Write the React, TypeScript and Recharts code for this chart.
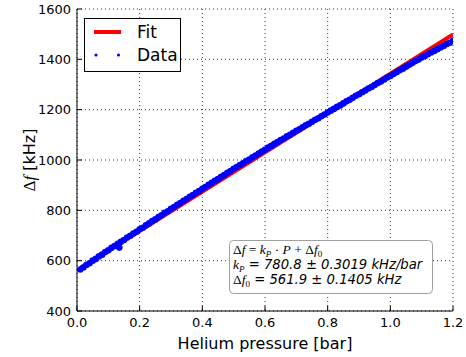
import React from 'react';
import { ComposedChart, Line, Scatter, XAxis, YAxis, CartesianGrid, Customized } from 'recharts';

const xTicks = [0, 0.2, 0.4, 0.6, 0.8, 1.0, 1.2];
const yTicks = [400, 600, 800, 1000, 1200, 1400, 1600];

const pressure = [
  0.01, 0.02, 0.03, 0.04, 0.05, 0.06, 0.07, 0.08, 0.09, 0.1,
  0.11, 0.12, 0.13, 0.14, 0.15, 0.16, 0.17, 0.18, 0.19, 0.2,
  0.21, 0.22, 0.23, 0.24, 0.25, 0.26, 0.27, 0.28, 0.29, 0.3,
  0.31, 0.32, 0.33, 0.34, 0.35, 0.36, 0.37, 0.38, 0.39, 0.4,
  0.41, 0.42, 0.43, 0.44, 0.45, 0.46, 0.47, 0.48, 0.49, 0.5,
  0.51, 0.52, 0.53, 0.54, 0.55, 0.56, 0.57, 0.58, 0.59, 0.6,
  0.61, 0.62, 0.63, 0.64, 0.65, 0.66, 0.67, 0.68, 0.69, 0.7,
  0.71, 0.72, 0.73, 0.74, 0.75, 0.76, 0.77, 0.78, 0.79, 0.8,
  0.81, 0.82, 0.83, 0.84, 0.85, 0.86, 0.87, 0.88, 0.89, 0.9,
  0.91, 0.92, 0.93, 0.94, 0.95, 0.96, 0.97, 0.98, 0.99, 1.0,
  1.01, 1.02, 1.03, 1.04, 1.05, 1.06, 1.07, 1.08, 1.09, 1.1,
  1.11, 1.12, 1.13, 1.14, 1.15, 1.16, 1.17, 1.18, 1.19, 1.2,
  0.135,
];

const shift = [
  565, 573, 583, 590, 600, 607, 617, 624, 634, 641,
  651, 658, 667, 675, 682, 692, 699, 708, 715, 725,
  731, 741, 748, 757, 764, 773, 780, 790, 796, 806,
  813, 822, 829, 838, 845, 854, 861, 870, 877, 886,
  893, 901, 909, 917, 924, 933, 940, 949, 956, 965,
  972, 980, 987, 996, 1002, 1011, 1018, 1026, 1034, 1041,
  1049, 1056, 1064, 1071, 1079, 1085, 1094, 1100, 1108, 1116,
  1122, 1130, 1138, 1144, 1152, 1160, 1166, 1174, 1181, 1189,
  1196, 1203, 1211, 1217, 1225, 1233, 1239, 1247, 1255, 1261,
  1269, 1276, 1284, 1290, 1298, 1306, 1312, 1320, 1328, 1334,
  1342, 1349, 1357, 1363, 1371, 1378, 1385, 1393, 1399, 1407,
  1413, 1420, 1427, 1433, 1440, 1447, 1453, 1461, 1466, 1474,
  652,
];

const kP = 780.8;
const f0 = 561.9;
const fitPressure = [0.01, 1.2];

const dataPts = pressure.map((p, i) => ({ p, f: shift[i] }));
const fitPts = fitPressure.map((p) => ({ p, f: f0 + kP * p }));

const TICK_LEN = 5;
const FS_TICK = 13;

const BottomTick = (props: any) => {
  const { x, y, payload } = props;
  const axisY = y - 6;
  return (
    <g>
      <line x1={x} x2={x} y1={axisY} y2={axisY - TICK_LEN} stroke="#000" strokeWidth={1} />
      <text x={x} y={y} dy="0.75em" textAnchor="middle" fontSize={FS_TICK} fill="#000" fontFamily="DejaVu Sans">
        {Number(payload.value).toFixed(1)}
      </text>
    </g>
  );
};

const LeftTick = (props: any) => {
  const { x, y, payload } = props;
  const axisX = x + 6;
  return (
    <g>
      <line x1={axisX} x2={axisX + TICK_LEN} y1={y} y2={y} stroke="#000" strokeWidth={1} />
      <text x={x} y={y} dy="0.36em" textAnchor="end" fontSize={FS_TICK} fill="#000" fontFamily="DejaVu Sans">
        {payload.value}
      </text>
    </g>
  );
};

const TopTick = (props: any) => {
  const { x, y } = props;
  return <line x1={x} x2={x} y1={y} y2={y + TICK_LEN} stroke="#000" strokeWidth={1} />;
};

const RightTick = (props: any) => {
  const { x, y } = props;
  return <line x1={x} x2={x - TICK_LEN} y1={y} y2={y} stroke="#000" strokeWidth={1} />;
};

const BlueDot = (props: any) => {
  const { cx, cy } = props;
  if (cx == null || cy == null) return null;
  return <circle cx={cx} cy={cy} r={3.3} fill="#0000ff" />;
};

const MATH = 'Liberation Serif';

const Overlay = () => (
  <g>
    {/* legend */}
    <rect x={84.5} y={18.5} width={96} height={53} fill="#fff" stroke="#000" strokeWidth={1} />
    <line x1={94} x2={121} y1={32} y2={32} stroke="#ff0000" strokeWidth={4} />
    <text x={137} y={37.5} fontSize={17} fontFamily="DejaVu Sans" fill="#000">Fit</text>
    <circle cx={96} cy={55} r={1.6} fill="#0000ff" />
    <circle cx={118.5} cy={55} r={1.6} fill="#0000ff" />
    <text x={137} y={60.5} fontSize={17} fontFamily="DejaVu Sans" fill="#000">Data</text>

    {/* annotation */}
    <rect x={229.5} y={240.5} width={203} height={53} rx={4} ry={4} fill="#fff" stroke="#a0a0a0" strokeWidth={1} />
    <text x={233} y={254} fontSize={13.5} fontFamily={MATH} fill="#000">
      <tspan>Δ</tspan>
      <tspan fontStyle="italic">f</tspan>
      <tspan> = </tspan>
      <tspan fontStyle="italic">k</tspan>
      <tspan fontStyle="italic" fontSize={9} dy={2.5}>P</tspan>
      <tspan dy={-2.5}> · </tspan>
      <tspan fontStyle="italic">P</tspan>
      <tspan> + Δ</tspan>
      <tspan fontStyle="italic">f</tspan>
      <tspan fontSize={9} dy={2.5}>0</tspan>
    </text>
    <text x={233} y={269} fontSize={13.5} fontFamily={MATH} fill="#000">
      <tspan fontStyle="italic">k</tspan>
      <tspan fontStyle="italic" fontSize={9} dy={2.5}>P</tspan>
      <tspan dy={-2.5} fontFamily="DejaVu Sans" fontStyle="italic" fontSize={13.2}> = 780.8 ± 0.3019 kHz/bar</tspan>
    </text>
    <text x={233} y={284} fontSize={13.5} fontFamily={MATH} fill="#000">
      <tspan>Δ</tspan>
      <tspan fontStyle="italic">f</tspan>
      <tspan fontSize={9} dy={2.5}>0</tspan>
      <tspan dy={-2.5} fontFamily="DejaVu Sans" fontStyle="italic" fontSize={13.2}> = 561.9 ± 0.1405 kHz</tspan>
    </text>

    {/* axis labels */}
    <text x={265} y={349} textAnchor="middle" fontSize={16} fontFamily="DejaVu Sans" fill="#000">
      Helium pressure [bar]
    </text>
    <text x={35} y={160} transform="rotate(-90, 35, 160)" textAnchor="middle" fontSize={16} fontFamily="DejaVu Sans" fill="#000">
      <tspan fontFamily={MATH} fontSize={17}>Δ</tspan>
      <tspan fontFamily={MATH} fontStyle="italic" fontSize={17}>f</tspan>
      <tspan> [kHz]</tspan>
    </text>
  </g>
);

export default function App() {
  return (
    <div style={{ position: 'absolute', left: 0, top: 0, width: 466, height: 357, background: '#fff' }}>
      <ComposedChart
        width={466}
        height={357}
        margin={{ top: 9, right: 13, bottom: 0, left: 0 }}
        style={{ fontFamily: 'DejaVu Sans' }}
      >
        <CartesianGrid stroke="#000" strokeDasharray="1 3" strokeWidth={0.8} />
        <XAxis
          type="number"
          dataKey="p"
          domain={[0, 1.2]}
          ticks={xTicks}
          interval={0}
          allowDataOverflow
          height={46}
          tickSize={0}
          tickMargin={6}
          tickLine={false}
          tick={(p: any) => <BottomTick {...p} />}
          axisLine={{ stroke: '#000', strokeWidth: 1 }}
        />
        <XAxis
          xAxisId="t"
          orientation="top"
          type="number"
          dataKey="p"
          domain={[0, 1.2]}
          ticks={xTicks}
          interval={0}
          allowDataOverflow
          height={0}
          tickSize={0}
          tickMargin={0}
          tickLine={false}
          tick={(p: any) => <TopTick {...p} />}
          axisLine={{ stroke: '#000', strokeWidth: 1 }}
        />
        <YAxis
          type="number"
          dataKey="f"
          domain={[400, 1600]}
          ticks={yTicks}
          interval={0}
          allowDataOverflow
          width={77}
          tickSize={0}
          tickMargin={6}
          tickLine={false}
          tick={(p: any) => <LeftTick {...p} />}
          axisLine={{ stroke: '#000', strokeWidth: 1 }}
        />
        <YAxis
          yAxisId="r"
          orientation="right"
          type="number"
          domain={[400, 1600]}
          ticks={yTicks}
          interval={0}
          allowDataOverflow
          width={0}
          tickSize={0}
          tickMargin={0}
          tickLine={false}
          tick={(p: any) => <RightTick {...p} />}
          axisLine={{ stroke: '#000', strokeWidth: 1 }}
        />
        <Line
          data={fitPts}
          dataKey="f"
          type="linear"
          stroke="#ff0000"
          strokeWidth={4}
          dot={false}
          isAnimationActive={false}
        />
        <Scatter
          data={dataPts}
          dataKey="f"
          fill="#0000ff"
          shape={(p: any) => <BlueDot {...p} />}
          isAnimationActive={false}
        />
        <Customized component={Overlay} />
      </ComposedChart>
    </div>
  );
}
